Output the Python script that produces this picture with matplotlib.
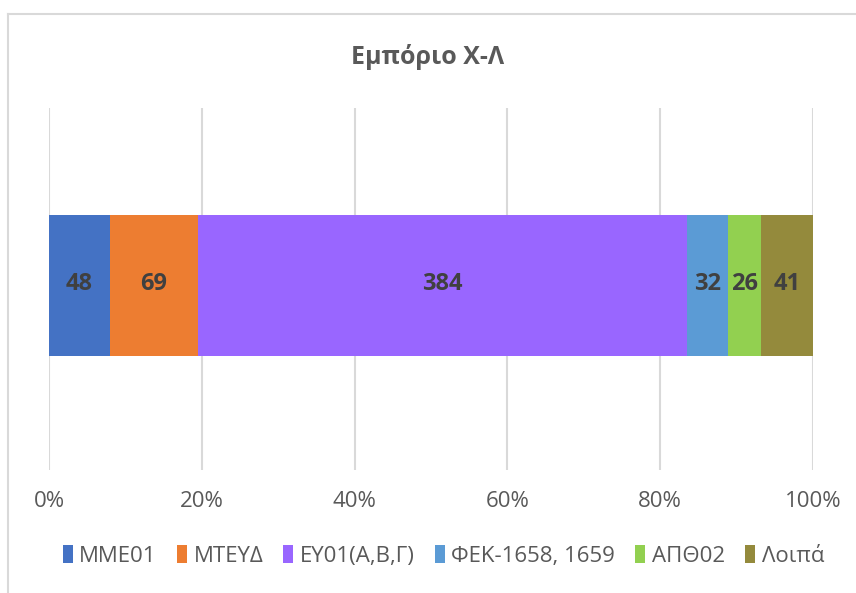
import numpy as np
import matplotlib.pyplot as plt
from matplotlib.lines import Line2D

plt.rcParams['font.family'] = ['Open Sans', 'DejaVu Sans']

categories = ['ΜΜΕ01', 'ΜΤΕΥΔ', 'ΕΥ01(Α,Β,Γ)', 'ΦΕΚ-1658, 1659', 'ΑΠΘ02', 'Λοιπά']
values = [48, 69, 384, 32, 26, 41]
colors = ['#4472C4', '#ED7D31', '#9966FF', '#5B9BD5', '#92D050', '#948A3C']
ticks = [0, 20, 40, 60, 80, 100]
tick_labels = ['0%', '20%', '40%', '60%', '80%', '100%']

total = sum(values)
shares = [v / total * 100 for v in values]

fig = plt.figure(figsize=(8.56, 5.93), dpi=100)
ax = fig.add_axes([49/856, 1 - 470/593, (813 - 49)/856, (470 - 108)/593])

left = 0
for name, v, s, c in zip(categories, values, shares, colors):
    ax.barh(0.01, s, left=left, height=0.39, color=c, label=name, zorder=3)
    ax.text(left + s / 2, 0.015, str(v), ha='center', va='center',
            fontsize=17, fontweight='bold', color='#404040', zorder=4)
    left += s

ax.set_xlim(0, 100)
ax.set_ylim(-0.5, 0.5)
ax.set_xticks(ticks)
ax.set_xticklabels(tick_labels, fontsize=16, color='#595959', fontweight='medium')
ax.set_yticks([])
ax.tick_params(axis='x', length=0, pad=15)
ax.grid(axis='x', color='#D9D9D9', linewidth=1.5, zorder=0)
for sp in ax.spines.values():
    sp.set_visible(False)

fig.text(0.5, 1 - 57/593, 'Εμπόριο Χ-Λ', ha='center', va='center',
         fontsize=18, fontweight='bold', color='#595959')

leg = fig.legend(loc='center', bbox_to_anchor=(0.518, 1 - 556/593), ncol=6,
                 frameon=False, prop={'size': 16, 'weight': 'medium'},
                 handlelength=0.45, handleheight=0.85,
                 handletextpad=0.3, columnspacing=0.9)
for t in leg.get_texts():
    t.set_color('#595959')

# chart area border (only top and left visible in the crop)
fig.add_artist(Line2D([8/856, 8/856], [0, 1 - 14/593], transform=fig.transFigure,
                      color='#D9D9D9', linewidth=1.5))
fig.add_artist(Line2D([8/856, 1], [1 - 14/593, 1 - 14/593], transform=fig.transFigure,
                      color='#D9D9D9', linewidth=1.5))

fig.savefig('out.png', dpi=100)
